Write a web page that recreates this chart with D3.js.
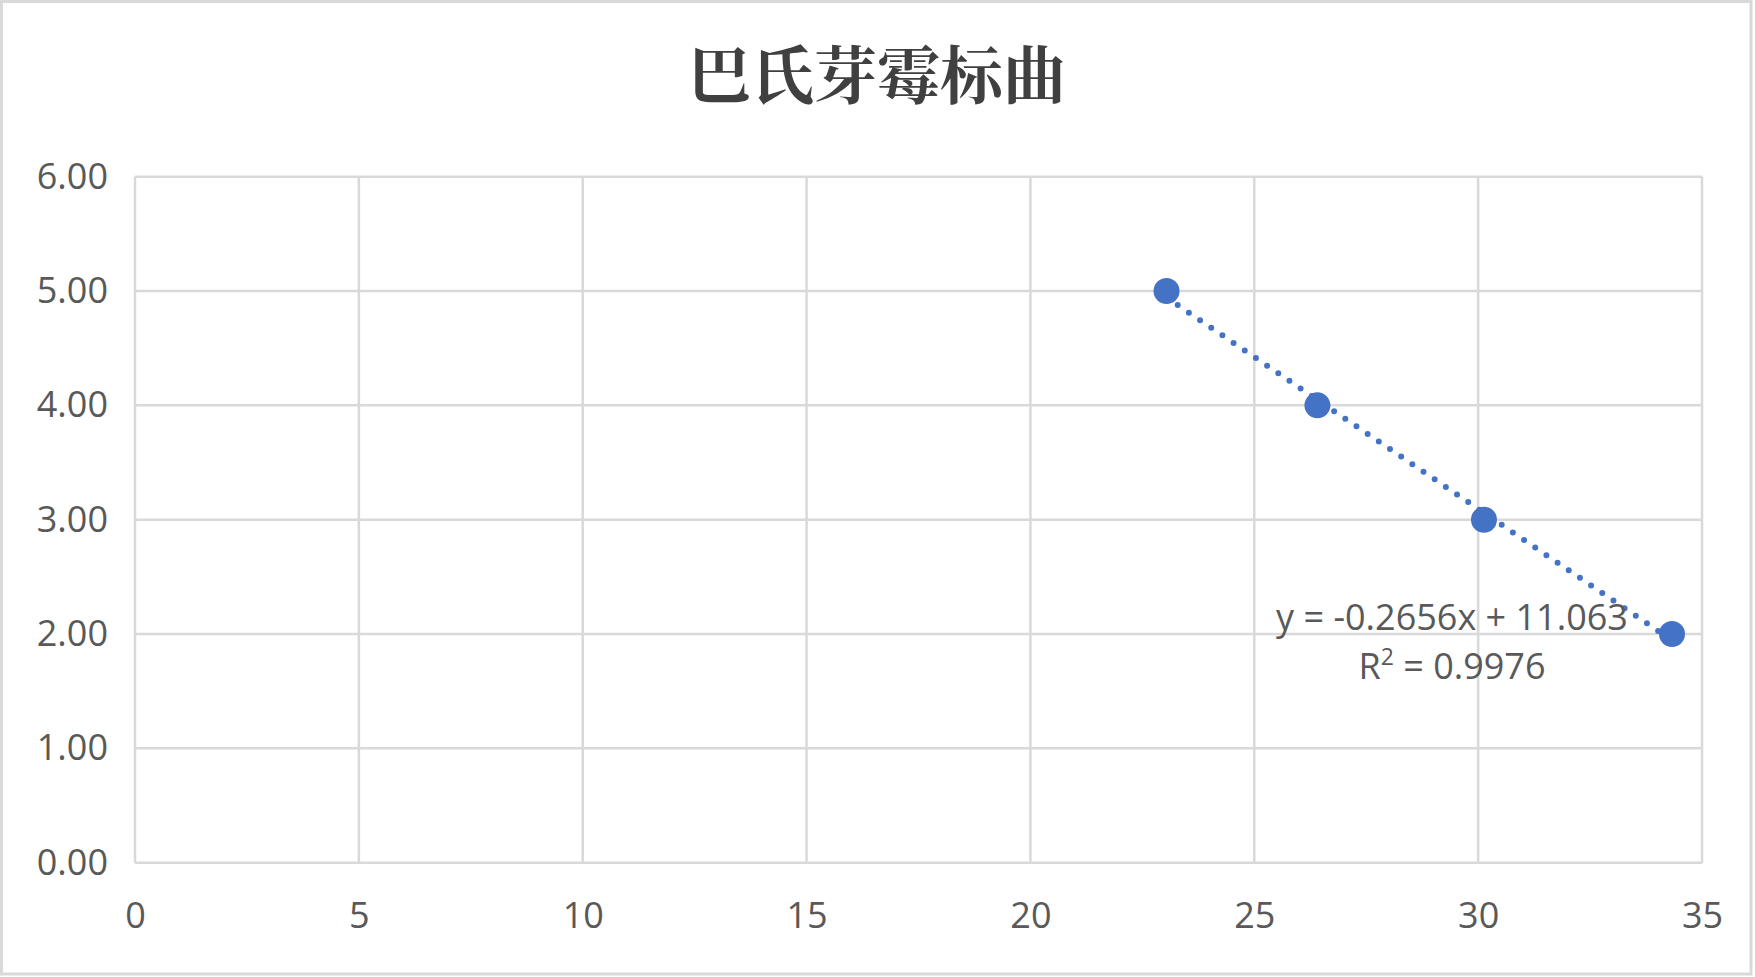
<!DOCTYPE html>
<html>
<head>
<meta charset="utf-8">
<script src="https://cdn.jsdelivr.net/npm/d3@7"></script>
<style>
    body { margin: 0; background: #fff; }
</style>
</head>
<body>
<div id="chart"></div>
<script>
'use strict';

// data
var title = '巴氏芽霉标曲';
var xValues = [23.04, 26.41, 30.13, 34.33];
var yValues = [5, 4, 3, 2];
var xTicks = [0, 5, 10, 15, 20, 25, 30, 35];
var yTicks = [0, 1, 2, 3, 4, 5, 6];
var trendSlope = -0.2656;
var trendIntercept = 11.063;
var trendLabels = ['y = -0.2656x + 11.063', 'R', '2', ' = 0.9976'];

var width = 1755, height = 977;
var plot = { left: 135, right: 1702, top: 176.7, bottom: 862.7 };
var blue = '#4472C4', grid = '#d9d9d9', textColor = '#595959';
var numFont = '"Open Sans", "Noto Sans", sans-serif';

var svg = d3.select('#chart').append('svg')
    .attr('width', width)
    .attr('height', height);

//outer chart border
svg.append('rect')
    .attr('x', 1.5).attr('y', 1.5)
    .attr('width', 1749.5).attr('height', 972.5)
    .attr('fill', '#fff')
    .attr('stroke', grid)
    .attr('stroke-width', 3);

var x = d3.scaleLinear().domain([0, 35]).range([plot.left, plot.right]);
var y = d3.scaleLinear().domain([0, 6]).range([plot.bottom, plot.top]);

//gridlines
svg.append('g')
    .selectAll('line.vgrid')
    .data(xTicks)
    .enter().append('line')
    .attr('x1', (d) => x(d)).attr('x2', (d) => x(d))
    .attr('y1', plot.top).attr('y2', plot.bottom)
    .attr('stroke', grid)
    .attr('stroke-width', 2.5);

svg.append('g')
    .selectAll('line.hgrid')
    .data(yTicks)
    .enter().append('line')
    .attr('x1', plot.left).attr('x2', plot.right)
    .attr('y1', (d) => y(d)).attr('y2', (d) => y(d))
    .attr('stroke', grid)
    .attr('stroke-width', 2.5);

//axes, only the labels are kept
var yAxis = svg.append('g')
    .attr('transform', 'translate(' + plot.left + ',0)')
    .call(d3.axisLeft(y).tickValues(yTicks).tickFormat(d3.format('.2f')).tickSize(0).tickPadding(27));
var xAxis = svg.append('g')
    .attr('transform', 'translate(0,' + plot.bottom + ')')
    .call(d3.axisBottom(x).tickValues(xTicks).tickFormat(d3.format('d')).tickSize(0).tickPadding(40));

[yAxis, xAxis].forEach((ax) => {
    ax.select('.domain').remove();
    ax.selectAll('text')
        .attr('fill', textColor)
        .attr('font-family', numFont)
        .attr('font-size', '36px');
});

//trendline over the data range
var trendX = d3.extent(xValues);
svg.append('line')
    .attr('x1', x(trendX[0])).attr('y1', y(trendSlope * trendX[0] + trendIntercept))
    .attr('x2', x(trendX[1])).attr('y2', y(trendSlope * trendX[1] + trendIntercept))
    .attr('stroke', blue)
    .attr('stroke-width', 6)
    .attr('stroke-linecap', 'round')
    .attr('stroke-dasharray', '0 13.5');

//points
svg.append('g')
    .selectAll('circle')
    .data(xValues)
    .enter().append('circle')
    .attr('cx', (d) => x(d))
    .attr('cy', (d, i) => y(yValues[i]))
    .attr('r', 13)
    .attr('fill', blue);

//trendline label
var label = svg.append('text')
    .attr('text-anchor', 'middle')
    .attr('fill', textColor)
    .attr('font-family', numFont)
    .attr('font-size', '36px');
label.append('tspan').attr('x', 1452).attr('y', 630).text(trendLabels[0]);
var line2 = label.append('tspan').attr('x', 1452).attr('y', 679);
line2.append('tspan').text(trendLabels[1]);
line2.append('tspan').attr('dy', -14).attr('font-size', '23px').text(trendLabels[2]);
line2.append('tspan').attr('dy', 14).text(trendLabels[3]);

//title
svg.append('text')
    .attr('x', 877)
    .attr('y', 98)
    .attr('text-anchor', 'middle')
    .attr('fill', '#404040')
    .attr('font-family', '"Noto Serif CJK SC", "Noto Sans CJK SC", serif')
    .attr('font-weight', 'bold')
    .attr('font-size', '63px')
    .text(title);
</script>
</body>
</html>
